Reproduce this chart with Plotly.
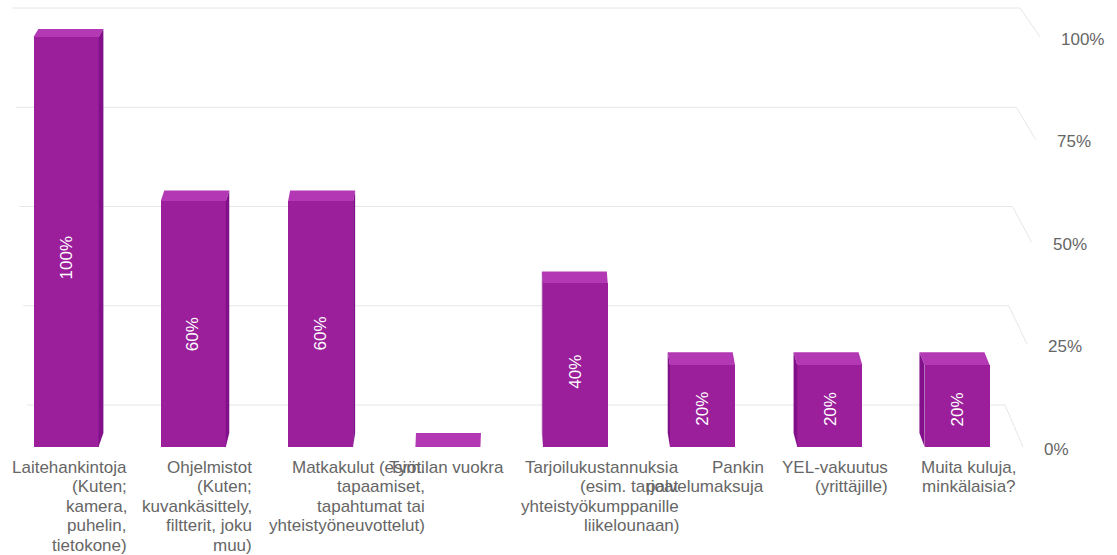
import plotly.graph_objects as go

# ---------------- data ----------------
category_lines = [
    ["Laitehankintoja", "(Kuten;", "kamera,", "puhelin,", "tietokone)"],
    ["Ohjelmistot", "(Kuten;", "kuvankäsittely,", "filtterit, joku", "muu)"],
    ["Matkakulut (esim.", "tapaamiset,", "tapahtumat tai", "yhteistyöneuvottelut)"],
    ["Työtilan vuokra"],
    ["Tarjoilukustannuksia", "(esim. tarjoat", "yhteistyökumppanille", "liikelounaan)"],
    ["Pankin", "palvelumaksuja"],
    ["YEL-vakuutus", "(yrittäjille)"],
    ["Muita kuluja,", "minkälaisia?"],
]
values = [100, 60, 60, 0, 40, 20, 20, 20]
tick_values = [0, 25, 50, 75, 100]
tick_labels = ["0%", "25%", "50%", "75%", "100%"]

# ---------------- geometry / style ----------------
W, H = 1117, 555
X0, XS = 66.0, 127.3      # pixel of category 0, pixels per category
Y0, YS = 447.0, 4.1       # pixel of value 0, pixels per percent
PLOT_W, PLOT_H = 1060, 467
BAR_PX = 65
label_right_px = [63, 61, 106, 58, 106, 63, 60, 61]   # right edge of label block relative to category
FRONT = "#9b1e9b"
TOP = "#b338b3"
SIDE = "#82108a"
GRID = "#e6e6e6"
TXT = "#666666"
FONT = "Liberation Sans, Arial, sans-serif"


def px_x(px):
    return (px - X0) / XS


def px_dy(px):
    return px / YS


def depth_dy(v):          # vertical depth offset (px) of the top face
    return 14 - 0.06 * v


def depth_dx(i):          # horizontal depth offset (px) toward the view centre
    return (500 - (X0 + XS * i)) * 0.0113


fig = go.Figure()

# back-wall grid lines with perspective returns on the right (drawn below the bars)
shapes = []
for v in tick_values:
    back = (Y0 - (405 - 3.97 * v)) / YS
    xa, xb, xc = px_x(27 - 0.15 * v), px_x(1005 + 0.15 * v), px_x(1023 + 0.17 * v)
    shapes.append(dict(type="path", xref="x", yref="y", layer="below",
                       path=f"M {xa},{back} L {xb},{back} L {xc},{v}",
                       line=dict(color=GRID, width=1)))

# front faces of the bars
idx = list(range(len(values)))
bw = BAR_PX / XS
fig.add_trace(go.Bar(x=idx, y=values, width=bw,
                     marker=dict(color=FRONT, line=dict(width=0)),
                     hovertemplate="%{y}%<extra></extra>", showlegend=False))

# top and side faces
for i, v in enumerate(values):
    xl, xr = i - bw / 2, i + bw / 2
    dx = px_x(X0 + depth_dx(i)) - px_x(X0)
    dyt = px_dy(depth_dy(v))
    dyb = px_dy(depth_dy(0))
    fig.add_trace(go.Scatter(
        x=[xl, xr, xr + dx, xl + dx, xl],
        y=[v, v, v + dyt, v + dyt, v],
        fill="toself", fillcolor=TOP, mode="lines", line=dict(width=0, color=TOP),
        hoverinfo="skip", showlegend=False))
    if v > 0:
        xe = xr if dx > 0 else xl
        fig.add_trace(go.Scatter(
            x=[xe, xe, xe + dx, xe + dx, xe],
            y=[0, v, v + dyt, dyb, 0],
            fill="toself", fillcolor=SIDE, mode="lines", line=dict(width=0, color=SIDE),
            hoverinfo="skip", showlegend=False))

annotations = []
# data labels inside bars
for i, v in enumerate(values):
    if v > 0:
        annotations.append(dict(x=i, y=v * 0.46, xref="x", yref="y", text=f"{v}%",
                                textangle=-90, showarrow=False,
                                font=dict(family=FONT, size=17, color="white")))
# category labels (right-aligned wrapped lines)
for i, lines in enumerate(category_lines):
    for k, line in enumerate(lines):
        annotations.append(dict(x=i, y=0, xref="x", yref="y", text=line,
                                xanchor="right", yanchor="middle", showarrow=False,
                                xshift=label_right_px[i], yshift=-(20 + 19.5 * k),
                                font=dict(family=FONT, size=17, color=TXT)))
# right-side axis labels
for v, t in zip(tick_values, tick_labels):
    annotations.append(dict(x=px_x(1042 + 0.17 * v), y=v, xref="x", yref="y", text=t,
                            xanchor="left", yanchor="middle", showarrow=False,
                            yshift=-2,
                            font=dict(family=FONT, size=17, color=TXT)))

fig.update_layout(
    width=W, height=H,
    margin=dict(l=0, r=W - PLOT_W, t=0, b=H - PLOT_H),
    paper_bgcolor="white", plot_bgcolor="white",
    xaxis=dict(range=[px_x(0), px_x(PLOT_W)], visible=False, fixedrange=True),
    yaxis=dict(range=[(Y0 - PLOT_H) / YS, Y0 / YS], visible=False, fixedrange=True),
    shapes=shapes,
    annotations=annotations,
    showlegend=False,
    bargap=0,
)

fig.write_html("out.html")
